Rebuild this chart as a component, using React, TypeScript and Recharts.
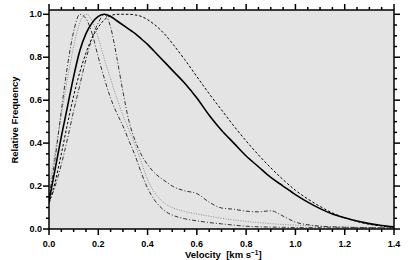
import React from 'react';
import { LineChart, Line, XAxis, YAxis, ReferenceArea } from 'recharts';

// velocity grid (km/s)
const velocity = [
  0, 0.025, 0.05, 0.075, 0.1, 0.125, 0.15, 0.175, 0.2, 0.225, 0.25, 0.275, 0.3, 0.325, 0.35, 0.375, 0.4, 0.425,
  0.45, 0.475, 0.5, 0.55, 0.6, 0.65, 0.7, 0.75, 0.8, 0.85, 0.9, 0.95, 1.0, 1.05, 1.1, 1.15, 1.2, 1.25, 1.3, 1.35, 1.4,
];

// solid black
const totalFreq = [
  0.13, 0.28, 0.43, 0.57, 0.71, 0.83, 0.91, 0.96, 0.99, 1.0, 0.99, 0.97, 0.95, 0.93, 0.91, 0.885, 0.86, 0.83,
  0.8, 0.77, 0.74, 0.68, 0.61, 0.53, 0.46, 0.4, 0.34, 0.29, 0.24, 0.2, 0.16, 0.125, 0.095, 0.07, 0.052, 0.037, 0.025, 0.016, 0.01,
];

// dashed black
const dashedFreq = [
  0.12, 0.22, 0.35, 0.49, 0.62, 0.73, 0.82, 0.89, 0.94, 0.975, 0.993, 1.0, 1.0, 1.0, 0.997, 0.99, 0.975, 0.955,
  0.93, 0.9, 0.865, 0.79, 0.71, 0.63, 0.555, 0.48, 0.41, 0.345, 0.285, 0.23, 0.18, 0.14, 0.105, 0.075, 0.052, 0.035, 0.022, 0.014, 0.008,
];

// dash-dot, peak ~0.22, shoulder and bump in the tail
const dashDotWide = [
  0.12, 0.2, 0.3, 0.42, 0.55, 0.67, 0.79, 0.89, 0.96, 1.0, 0.94, 0.8, 0.64, 0.5, 0.41, 0.345, 0.3, 0.265,
  0.24, 0.22, 0.2, 0.178, 0.165, 0.125, 0.098, 0.092, 0.083, 0.08, 0.085, 0.06, 0.032, 0.02, 0.013, 0.01, 0.008, 0.007, 0.006, 0.005, 0.005,
];

// dash-dot, narrow peak ~0.125
const dashDotNarrow = [
  0.15, 0.33, 0.55, 0.76, 0.92, 1.0, 0.98, 0.91, 0.8, 0.7, 0.61, 0.54, 0.48, 0.41, 0.34, 0.26, 0.19, 0.14,
  0.105, 0.08, 0.065, 0.048, 0.038, 0.03, 0.024, 0.018, 0.013, 0.01, 0.009, 0.008, 0.007, 0.006, 0.006, 0.005, 0.005, 0.005, 0.005, 0.005, 0.005,
];

// gray dotted, peak ~0.15
const dottedFreq = [
  0.2, 0.36, 0.53, 0.7, 0.85, 0.96, 1.0, 0.97, 0.89, 0.79, 0.7, 0.61, 0.53, 0.46, 0.39, 0.31, 0.23, 0.175,
  0.14, 0.115, 0.1, 0.082, 0.07, 0.06, 0.05, 0.042, 0.035, 0.03, 0.025, 0.021, 0.018, 0.015, 0.013, 0.011, 0.01, 0.008, 0.007, 0.006, 0.005,
];

const xTicks = [
  0, 0.05, 0.1, 0.15, 0.2, 0.25, 0.3, 0.35, 0.4, 0.45, 0.5, 0.55, 0.6, 0.65, 0.7, 0.75, 0.8, 0.85, 0.9, 0.95, 1.0,
  1.05, 1.1, 1.15, 1.2, 1.25, 1.3, 1.35, 1.4,
];
const yTicks = [0, 0.05, 0.1, 0.15, 0.2, 0.25, 0.3, 0.35, 0.4, 0.45, 0.5, 0.55, 0.6, 0.65, 0.7, 0.75, 0.8, 0.85, 0.9, 0.95, 1.0];

const data = velocity.map((v, i) => ({
  v,
  total: totalFreq[i],
  dashed: dashedFreq[i],
  wide: dashDotWide[i],
  narrow: dashDotNarrow[i],
  dotted: dottedFreq[i],
}));

// frame edges: top axis height 10, right axis width 21
const PLOT_TOP = 10;
const PLOT_RIGHT = 394;

const font = '"Liberation Sans", Arial, Helvetica, sans-serif';
const isMajor = (v: number) => Math.abs(v * 5 - Math.round(v * 5)) < 1e-6;
const TICK_W = 1.5;

// bottom ticks, mirrored on the top edge
const BottomTick = (props: any) => {
  const { x, y, payload } = props;
  const major = isMajor(payload.value);
  const len = major ? 6 : 3;
  return (
    <g>
      <line x1={x} y1={y} x2={x} y2={y + len} stroke="#000" strokeWidth={TICK_W} />
      <line x1={x} y1={PLOT_TOP} x2={x} y2={PLOT_TOP - len} stroke="#000" strokeWidth={TICK_W} />
      {major && (
        <text x={x} y={y + 18} textAnchor="middle" fontFamily={font} fontWeight="bold" fontSize={9} fill="#000">
          {payload.value.toFixed(1)}
        </text>
      )}
    </g>
  );
};

// left ticks, mirrored on the right edge
const LeftTick = (props: any) => {
  const { x, y, payload } = props;
  const major = isMajor(payload.value);
  const len = major ? 6 : 3;
  return (
    <g>
      <line x1={x} y1={y} x2={x - len} y2={y} stroke="#000" strokeWidth={TICK_W} />
      <line x1={PLOT_RIGHT} y1={y} x2={PLOT_RIGHT + len} y2={y} stroke="#000" strokeWidth={TICK_W} />
      {major && (
        <text x={x - 7} y={y + 3.2} textAnchor="end" fontFamily={font} fontWeight="bold" fontSize={9} fill="#000">
          {payload.value.toFixed(1)}
        </text>
      )}
    </g>
  );
};

const XLabel = () => (
  <text x={185} y={258} fontFamily={font} fontWeight="bold" fontSize={9.5} fill="#000" style={{ whiteSpace: 'pre' }}>
    {'Velocity  [km s'}
    <tspan dy={-3.5} fontSize={6.5}>{'\u22121'}</tspan>
    <tspan dy={3.5}>]</tspan>
  </text>
);

const YLabel = () => (
  <text
    x={14}
    y={120}
    transform="rotate(-90 14 120)"
    textAnchor="middle"
    dominantBaseline="central"
    fontFamily={font}
    fontWeight="bold"
    fontSize={9.5}
    fill="#000"
  >
    Relative Frequency
  </text>
);

const axisCommon = {
  type: 'number' as const,
  interval: 0 as const,
  tickLine: false,
  tickSize: 0,
  tickMargin: 0,
  axisLine: { stroke: '#000' },
  allowDataOverflow: true,
};

export default function App() {
  return (
    <div style={{ position: 'absolute', left: 0, top: 0, background: '#fff' }}>
      <LineChart width={415} height={260} data={data} margin={{ top: 0, right: 0, bottom: 0, left: 0 }}>
        <ReferenceArea
          xAxisId="b"
          yAxisId="l"
          x1={0}
          x2={1.4}
          y1={0}
          y2={1.02}
          fill="#e4e4e4"
          fillOpacity={1}
          stroke="#000"
          strokeWidth={1}
        />
        <XAxis {...axisCommon} xAxisId="b" dataKey="v" domain={[0, 1.4]} ticks={xTicks} tick={BottomTick} height={31} label={<XLabel />} />
        <XAxis {...axisCommon} xAxisId="t" orientation="top" dataKey="v" domain={[0, 1.4]} ticks={xTicks} tick={false} height={PLOT_TOP} />
        <YAxis {...axisCommon} yAxisId="l" dataKey="total" domain={[0, 1.02]} ticks={yTicks} tick={LeftTick} width={49} label={<YLabel />} />
        <YAxis {...axisCommon} yAxisId="r" orientation="right" dataKey="total" domain={[0, 1.02]} ticks={yTicks} tick={false} width={415 - PLOT_RIGHT} />
        <Line xAxisId="b" yAxisId="l" type="monotone" dataKey="dotted" stroke="#8a8a8a" strokeWidth={1} strokeDasharray="1 1.5" dot={false} isAnimationActive={false} />
        <Line xAxisId="b" yAxisId="l" type="monotone" dataKey="narrow" stroke="#333" strokeWidth={1} strokeDasharray="4 2 1 2" dot={false} isAnimationActive={false} />
        <Line xAxisId="b" yAxisId="l" type="monotone" dataKey="wide" stroke="#333" strokeWidth={1} strokeDasharray="4 2 1 2" dot={false} isAnimationActive={false} />
        <Line xAxisId="b" yAxisId="l" type="monotone" dataKey="dashed" stroke="#000" strokeWidth={1} strokeDasharray="2.5 2" dot={false} isAnimationActive={false} />
        <Line xAxisId="b" yAxisId="l" type="monotone" dataKey="total" stroke="#000" strokeWidth={1.6} dot={false} isAnimationActive={false} />
      </LineChart>
    </div>
  );
}
